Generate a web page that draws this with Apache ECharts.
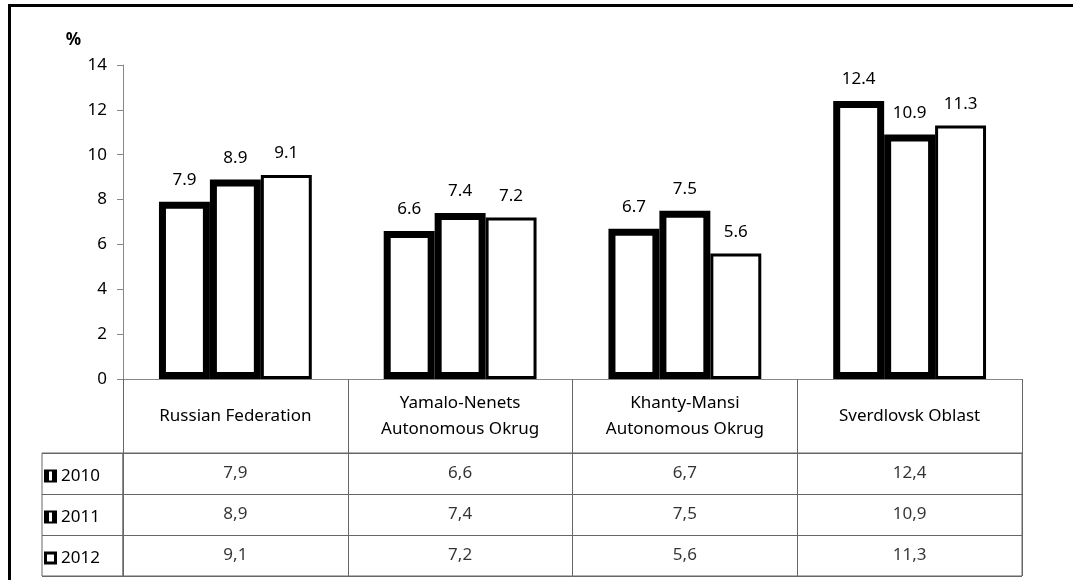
<!DOCTYPE html>
<html>
<head>
<meta charset="utf-8">
<script src="https://cdn.jsdelivr.net/npm/echarts@6/dist/echarts.min.js"></script>
<style>
  html, body { margin: 0; padding: 0; background: #fff; }
  #wrap { position: relative; width: 1073px; height: 580px; }
  #chart { position: absolute; left: 0; top: 0; width: 1073px; height: 580px; }
  #frame { position: absolute; left: 8px; top: 4px; right: 0; bottom: -10px;
           border-left: 3px solid #000; border-top: 3px solid #000; pointer-events: none; }
</style>
</head>
<body>
<div id="wrap"><div id="chart"></div><div id="frame"></div></div>
<script>
// ---- data ----
const categories = ['Russian Federation', 'Yamalo-Nenets\nAutonomous Okrug', 'Khanty-Mansi\nAutonomous Okrug', 'Sverdlovsk Oblast'];
const years = ['2010', '2011', '2012'];
const values2010 = [7.9, 6.6, 6.7, 12.4];
const values2011 = [8.9, 7.4, 7.5, 10.9];
const values2012 = [9.1, 7.2, 5.6, 11.3];
const yMin = 0, yMax = 14, yStep = 2;
const yUnit = '%';

// ---- build ----
const FONT = 'Noto Sans';
const FS = 17;
const LINE = '#666';
const seriesValues = [values2010, values2011, values2012];
const borderWidths = [7, 7, 3];
const icons = [
  'path://M0,0H13V13H0Z M5,2V11H8V2Z',
  'path://M0,0H13V13H0Z M5,2V11H8V2Z',
  'path://M0,0H13V13H0Z M3,3V10H10V3Z'
];

const chart = echarts.init(document.getElementById('chart'), null, { renderer: 'canvas' });

const barSeries = years.map((y, k) => ({
  name: y,
  type: 'bar',
  xAxisIndex: 0, yAxisIndex: 0,
  data: seriesValues[k],
  barGap: '0%',
  barCategoryGap: '32%',
  itemStyle: { color: '#fff', borderColor: '#000', borderWidth: borderWidths[k] },
  label: {
    show: true, position: 'top', distance: 13,
    fontFamily: FONT, fontSize: FS, color: '#000',
    formatter: p => p.value.toFixed(1)
  }
}));

const cellSeries = years.map((y, k) => ({
  name: y,
  type: 'scatter',
  xAxisIndex: 1, yAxisIndex: 1,
  symbolSize: 1,
  itemStyle: { color: 'rgba(0,0,0,0)' },
  silent: true,
  data: seriesValues[k].map((v, i) => [i, k, v]),
  label: {
    show: true, position: 'inside',
    fontFamily: FONT, fontSize: FS, color: '#000',
    formatter: p => p.value[2].toFixed(1).replace('.', ',')
  }
}));

const option = {
  animation: false,
  backgroundColor: '#fff',
  textStyle: { fontFamily: FONT },
  legend: {
    orient: 'vertical',
    left: 44, top: 466, padding: 0,
    itemWidth: 13, itemHeight: 13, itemGap: 21,
    textStyle: { fontFamily: FONT, fontSize: FS, color: '#000', lineHeight: 20, padding: [0, 0, 0, -1] },
    itemStyle: { color: '#000', borderWidth: 0 },
    data: years.map((y, k) => ({ name: y, icon: icons[k] })),
    selectedMode: false
  },
  grid: [
    { left: 123, top: 65, width: 899, height: 314 },
    { left: 123, top: 453, width: 899, height: 123, show: true, borderColor: LINE, borderWidth: 1 },
    { left: 42, top: 453, width: 81, height: 123, show: true, borderColor: LINE, borderWidth: 1 }
  ],
  xAxis: [
    {
      gridIndex: 0, type: 'category', data: categories,
      axisLine: { lineStyle: { color: '#888' } },
      axisTick: { show: true, length: 74, lineStyle: { color: LINE } },
      axisLabel: { interval: 0, margin: 37, verticalAlign: 'middle', lineHeight: 26,
                   fontFamily: FONT, fontSize: FS, color: '#000' }
    },
    {
      gridIndex: 1, type: 'category', data: categories,
      axisLine: { show: false }, axisTick: { show: false }, axisLabel: { show: false },
      splitLine: { show: true, interval: 0, lineStyle: { color: LINE } }
    },
    {
      gridIndex: 2, type: 'value', show: false, min: 0, max: 1
    }
  ],
  yAxis: [
    {
      gridIndex: 0, type: 'value', min: yMin, max: yMax, interval: yStep,
      name: yUnit, nameLocation: 'end', nameGap: 16,
      nameTextStyle: { fontFamily: FONT, fontSize: 17, fontWeight: 'bold', color: '#000', align: 'right', padding: [0, 42, 0, 0] },
      axisLine: { show: true, lineStyle: { color: '#888' } },
      axisTick: { show: true, length: 6, lineStyle: { color: '#888' } },
      axisLabel: { margin: 16, fontFamily: FONT, fontSize: FS, color: '#000' },
      splitLine: { show: false }
    },
    {
      gridIndex: 1, type: 'category', data: years, inverse: true,
      axisLine: { show: false }, axisTick: { show: false }, axisLabel: { show: false },
      splitLine: { show: true, interval: 0, lineStyle: { color: LINE } }
    },
    {
      gridIndex: 2, type: 'category', data: years, inverse: true,
      axisLine: { show: false }, axisTick: { show: false }, axisLabel: { show: false },
      splitLine: { show: true, interval: 0, lineStyle: { color: LINE } }
    }
  ],
  series: barSeries.concat(cellSeries)
};

chart.setOption(option);
</script>
</body>
</html>
